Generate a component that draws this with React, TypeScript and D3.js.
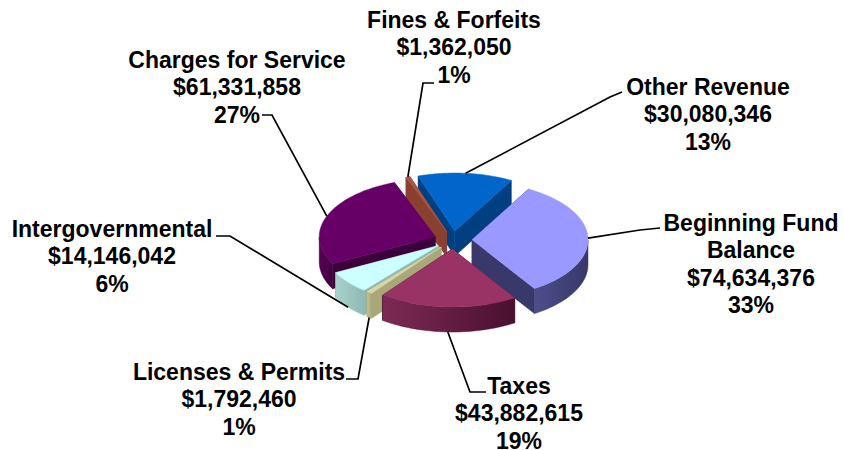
import React from "react";
import * as d3 from "d3";

const categories = ["Beginning Fund Balance", "Taxes", "Licenses & Permits", "Intergovernmental", "Charges for Service", "Fines & Forfeits", "Other Revenue"];
const values = [74634376, 43882615, 1792460, 14146042, 61331858, 1362050, 30080346];
const percents = ["33%", "19%", "1%", "6%", "27%", "1%", "13%"];
const labelLines = [["Beginning Fund", "Balance"], ["Taxes"], ["Licenses & Permits"], ["Intergovernmental"], ["Charges for Service"], ["Fines & Forfeits"], ["Other Revenue"]];
const topColors = ["#9999ff", "#993366", "#d6d6a8", "#ccffff", "#660066", "#a85442", "#0066cc"];
const wallLight = ["#4d4d8c", "#7d2a55", "#c4c494", "#a8d2cc", "#5a005a", "#a05040", "#00509f"];
const wallDark = ["#38386a", "#4a1030", "#a8a878", "#90b8b4", "#3c003c", "#8a4030", "#003f80"];

const cx = 453, cy = 240, rx = 116, ry = 58, depth = 25, explodeX = 19, explodeY = 9;
// label centre x, first baseline y, elbow and end of leader
const labelPos = [
  { x: 751, y: 231, end: [660, 228], elbow: [640, 230] },
  { x: 519, y: 394, end: [486, 392], elbow: [470, 392] },
  { x: 239, y: 380, end: [346, 379], elbow: [358, 379] },
  { x: 112, y: 237, end: [216, 236], elbow: [230, 236] },
  { x: 237, y: 68, end: [262, 115], elbow: [272, 115] },
  { x: 454, y: 28, end: [434, 83], elbow: [423, 83] },
  { x: 708, y: 95, end: [622, 92], elbow: [610, 97] },
];

const fmt = d3.format("$,");
const startDeg = 29.2;
const pie = d3.pie<number>().sort(null).startAngle((startDeg * Math.PI) / 180).endAngle((startDeg * Math.PI) / 180 + 2 * Math.PI);
const arcs = pie(values);

type P = [number, number];
const sx = d3.scaleLinear().domain([-1, 1]).range([-rx, rx]);
const sy = d3.scaleLinear().domain([-1, 1]).range([-ry, ry]);
const rimAt = (a: number): P => [sx(Math.sin(a)), sy(-Math.cos(a))];
const lineGen = d3.line<P>();

function sliceParts(i: number) {
  const { startAngle: a0, endAngle: a1 } = arcs[i];
  const mid = (a0 + a1) / 2;
  const ax = cx + explodeX * Math.sin(mid);
  const ay = cy - explodeY * Math.cos(mid);
  const ang = (t: number) => a0 + (a1 - a0) * t;
  const n = 60;
  const rim: P[] = d3.range(n + 1).map((k) => {
    const p = rimAt(ang(k / n));
    return [ax + p[0], ay + p[1]] as P;
  });
  const top = lineGen([[ax, ay], ...rim])! + "Z";
  const down = (p: P): P => [p[0], p[1] + depth];
  const apex: P = [ax, ay];
  const cutA = lineGen([apex, rim[0], down(rim[0]), down(apex)])! + "Z";
  const cutB = lineGen([apex, rim[n], down(rim[n]), down(apex)])! + "Z";
  const front = d3.range(n + 1).map((k) => ang(k / n)).filter((a) => Math.cos(a) <= 0).map((a) => {
    const p = rimAt(a);
    return [ax + p[0], ay + p[1]] as P;
  });
  const wall = front.length > 1 ? lineGen([...front, ...front.slice().reverse().map(down)])! + "Z" : null;
  const mp = rimAt(mid);
  const anchor: P = [ax + mp[0], ay + mp[1] + (Math.cos(mid) < 0 ? depth : 0)];
  return { top, cutA, cutB, wall, anchor, sortY: ay + sy(-Math.cos(mid)) * 0.4 };
}

const parts = categories.map((_, i) => ({ i, ...sliceParts(i) }));
const order = parts.slice().sort((p, q) => p.sortY - q.sortY);
const font = "'Liberation Sans', Arial, sans-serif";
const lineHeight = 27.3;

export default function App() {
  return (
    <svg width={844} height={450} style={{ position: "absolute", left: 0, top: 0, background: "#fff" }} fontFamily={font}>
      <defs>
        {categories.map((_, i) => (
          <linearGradient key={i} id={`w${i}`} x1="0" x2="1" y1="0" y2="0">
            <stop offset="0" stopColor={wallLight[i]} />
            <stop offset="1" stopColor={wallDark[i]} />
          </linearGradient>
        ))}
      </defs>
      {order.map((p) => (
        <g key={p.i}>
          <path d={p.cutA} fill={wallDark[p.i]} stroke={wallDark[p.i]} strokeWidth={0.5} />
          <path d={p.cutB} fill={wallDark[p.i]} stroke={wallDark[p.i]} strokeWidth={0.5} />
          {p.wall && <path d={p.wall} fill={`url(#w${p.i})`} stroke={wallDark[p.i]} strokeWidth={0.5} />}
          <path d={p.top} fill={topColors[p.i]} stroke={topColors[p.i]} strokeWidth={0.5} />
        </g>
      ))}
      {parts.map((p) => {
        const l = labelPos[p.i];
        return (
          <polyline key={p.i} fill="none" stroke="#000" strokeWidth={1.7}
            points={[p.anchor, l.elbow, l.end].map((q) => q.join(",")).join(" ")} />
        );
      })}
      {categories.map((_, i) => {
        const l = labelPos[i];
        const lines = [...labelLines[i], fmt(values[i]), percents[i]];
        return (
          <text key={i} x={l.x} y={l.y} textAnchor="middle" fontSize={23} fontWeight={700} fill="#000">
            {lines.map((s, k) => (
              <tspan key={k} x={l.x} dy={k === 0 ? 0 : lineHeight}>{s}</tspan>
            ))}
          </text>
        );
      })}
    </svg>
  );
}
